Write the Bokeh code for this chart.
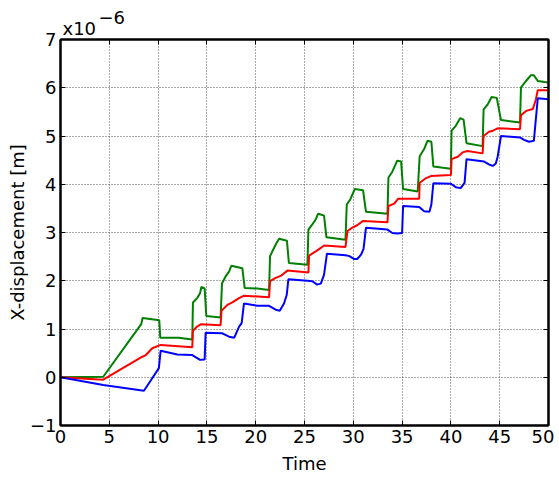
from bokeh.plotting import figure
from bokeh.models import Range1d, FixedTicker, LinearAxis, Title
from bokeh.embed import file_html
from bokeh.resources import INLINE

# Displacement data, in units of 1e-6 m
time_green = [0, 4.38, 8.27, 8.41, 10.12, 10.22, 12.1, 13.5,
              13.57, 14.0, 14.3, 14.43, 14.77, 14.94, 16.4,
              16.55, 16.92, 17.27, 17.5, 18.63, 18.87, 20.17, 21.37,
              21.47, 22.05, 22.4, 23.2, 23.4, 25.3,
              25.4, 25.8, 26.15, 26.4, 27.0, 27.25, 29.2,
              29.33, 29.7, 30.15, 31.0, 31.3, 33.5,
              33.6, 34.0, 34.5, 34.9, 35.1, 36.6,
              36.8, 37.26, 37.6, 38.0, 38.2, 40.0,
              40.07, 40.5, 40.95, 41.3, 41.6, 43.25,
              43.35, 43.76, 44.17, 44.7, 45.13, 47.08,
              47.18, 47.7, 48.2, 48.5, 48.9, 49.6, 50]
disp_green = [0, 0.01, 1.10, 1.23, 1.18, 0.82, 0.82, 0.78,
              1.55, 1.64, 1.74, 1.87, 1.84, 1.27, 1.24,
              1.95, 2.09, 2.19, 2.31, 2.26, 1.85, 1.84, 1.81,
              2.51, 2.75, 2.87, 2.83, 2.37, 2.33,
              3.06, 3.17, 3.27, 3.39, 3.35, 2.9, 2.85,
              3.58, 3.69, 3.9, 3.875, 3.43, 3.39,
              4.14, 4.26, 4.49, 4.47, 3.9, 3.85,
              4.58, 4.73, 4.9, 4.88, 4.37, 4.32,
              5.11, 5.21, 5.37, 5.34, 4.85, 4.79,
              5.55, 5.65, 5.81, 5.79, 5.33, 5.28,
              6.01, 6.14, 6.26, 6.26, 6.14, 6.12, 6.11]

time_red = [0, 4.38, 8.34, 8.75, 9.4, 10.26, 13.5,
            13.57, 14.0, 14.4, 16.4,
            16.5, 17.1, 17.6, 18.3, 18.8, 21.37,
            21.47, 22.05, 22.56, 23.25, 25.4,
            25.47, 26.15, 26.67, 27.0, 29.2,
            29.4, 29.9, 30.4, 31.0, 33.5,
            33.6, 34.2, 34.6, 36.75,
            36.8, 37.4, 37.95, 40.0,
            40.07, 40.7, 41.2, 41.7, 43.25,
            43.35, 43.9, 44.3, 44.8, 47.08,
            47.18, 47.7, 48.4, 48.7, 48.9, 50]
disp_red = [0, -0.05, 0.42, 0.46, 0.6, 0.67, 0.62,
            0.965, 1.05, 1.10, 1.08,
            1.38, 1.5, 1.55, 1.64, 1.69, 1.66,
            1.99, 2.06, 2.10, 2.21, 2.17,
            2.52, 2.61, 2.68, 2.73, 2.70,
            3.03, 3.1, 3.15, 3.24, 3.21,
            3.55, 3.6, 3.7, 3.70,
            4.03, 4.12, 4.17, 4.19,
            4.52, 4.57, 4.66, 4.69, 4.64,
            5.0, 5.09, 5.11, 5.16, 5.14,
            5.43, 5.52, 5.56, 5.75, 5.95, 5.95]

time_blue = [0, 4.38, 8.55, 9.33, 10.08, 10.26, 11.97, 13.5,
             14.3, 14.77, 14.87, 16.58, 17.27, 17.8, 18.3, 18.56, 18.8,
             20.17, 21.37, 22.05, 22.46, 22.9, 23.18, 23.35,
             25.3, 25.8, 26.3, 26.67, 27.0, 27.3,
             29.2, 29.6, 30.1, 30.4, 30.8, 31.05, 31.3,
             33.5, 34.0, 34.5, 35.0, 35.1,
             36.75, 37.26, 37.8, 38.0, 38.2,
             40.0, 40.5, 41.0, 41.4, 41.6,
             43.4, 43.9, 44.3, 44.6, 44.8, 45.13,
             47.08, 47.5, 48.0, 48.5, 48.9, 50]
disp_blue = [0, -0.16, -0.28, -0.04, 0.19, 0.55, 0.47, 0.46,
             0.36, 0.37, 0.92, 0.91, 0.84, 0.82, 1.05, 1.12, 1.53,
             1.48, 1.48, 1.40, 1.38, 1.53, 1.71, 2.03,
             2.0, 1.99, 1.92, 1.94, 2.12, 2.56,
             2.53, 2.51, 2.45, 2.45, 2.54, 2.66, 3.1,
             3.06, 2.99, 2.98, 2.99, 3.55,
             3.53, 3.44, 3.43, 3.58, 4.02,
             4.01, 3.94, 3.92, 4.03, 4.52,
             4.47, 4.41, 4.38, 4.43, 4.58, 5.0,
             4.97, 4.92, 4.88, 4.9, 5.78, 5.76]

x_ticks = [0, 5, 10, 15, 20, 25, 30, 35, 40, 45, 50]
y_ticks = [-1, 0, 1, 2, 3, 4, 5, 6, 7]
exponent_base = "x10"
exponent_power = "\u22126"

FONT = "DejaVu Sans"
FRAME_W, FRAME_H = 488, 386

p = figure(frame_width=FRAME_W, frame_height=FRAME_H, output_backend="svg",
           toolbar_location=None, x_range=Range1d(0, 50), y_range=Range1d(-1, 7),
           min_border_left=60, min_border_top=39, min_border_right=6, min_border_bottom=45,
           x_axis_label="Time", y_axis_label="X-displacement [m]")

p.background_fill_color = "white"
p.border_fill_color = "white"
p.outline_line_color = "black"
p.outline_line_width = 2

for ax in (p.xaxis[0], p.yaxis[0]):
    ax.axis_line_width = 2
    ax.major_tick_in = 5
    ax.major_tick_out = 0
    ax.minor_tick_line_color = None
    ax.major_label_text_font = FONT
    ax.major_label_text_font_size = "18px"
    ax.major_label_text_color = "black"
    ax.axis_label_text_font = FONT
    ax.axis_label_text_font_size = "18px"
    ax.axis_label_text_font_style = "normal"
    ax.axis_label_text_color = "black"
    ax.major_label_standoff = 4
p.xaxis.axis_label_standoff = 7
p.yaxis.axis_label_standoff = -1
p.xaxis.ticker = FixedTicker(ticks=x_ticks)
p.yaxis.ticker = FixedTicker(ticks=y_ticks)
p.yaxis.major_label_overrides = {-1: "\u22121"}
p.yaxis.major_label_orientation = "horizontal"

top = LinearAxis(ticker=FixedTicker(ticks=x_ticks), major_label_text_font_size="0px",
                 major_tick_in=5, major_tick_out=0, minor_tick_line_color=None,
                 axis_line_width=2, major_label_standoff=0)
right = LinearAxis(ticker=FixedTicker(ticks=y_ticks), major_label_text_font_size="0px",
                   major_tick_in=5, major_tick_out=0, minor_tick_line_color=None,
                   axis_line_width=2, major_label_standoff=0)
p.add_layout(top, "above")
p.add_layout(right, "right")

p.xgrid.ticker = FixedTicker(ticks=x_ticks)
p.ygrid.ticker = FixedTicker(ticks=y_ticks)
for g in (p.xgrid[0], p.ygrid[0]):
    g.grid_line_color = "#555555"
    g.grid_line_dash = "1 2"
    g.grid_line_width = 1

p.line(time_green, disp_green, line_color="#008000", line_width=2)
p.line(time_red, disp_red, line_color="#ff0000", line_width=2)
p.line(time_blue, disp_blue, line_color="#0000ff", line_width=2)

# exponent "x10^-6" above the top-left corner, placed as titles in the top side panel
p.add_layout(Title(text=exponent_base, align="left", offset=2, standoff=1,
                   text_font=FONT, text_font_size="18px", text_font_style="normal",
                   text_color="black"), "above")
p.add_layout(Title(text=exponent_power, align="left", offset=38, standoff=-17,
                   text_font=FONT, text_font_size="18px", text_font_style="normal",
                   text_color="black"), "above")

open("out.html", "w").write(file_html(p, INLINE))
